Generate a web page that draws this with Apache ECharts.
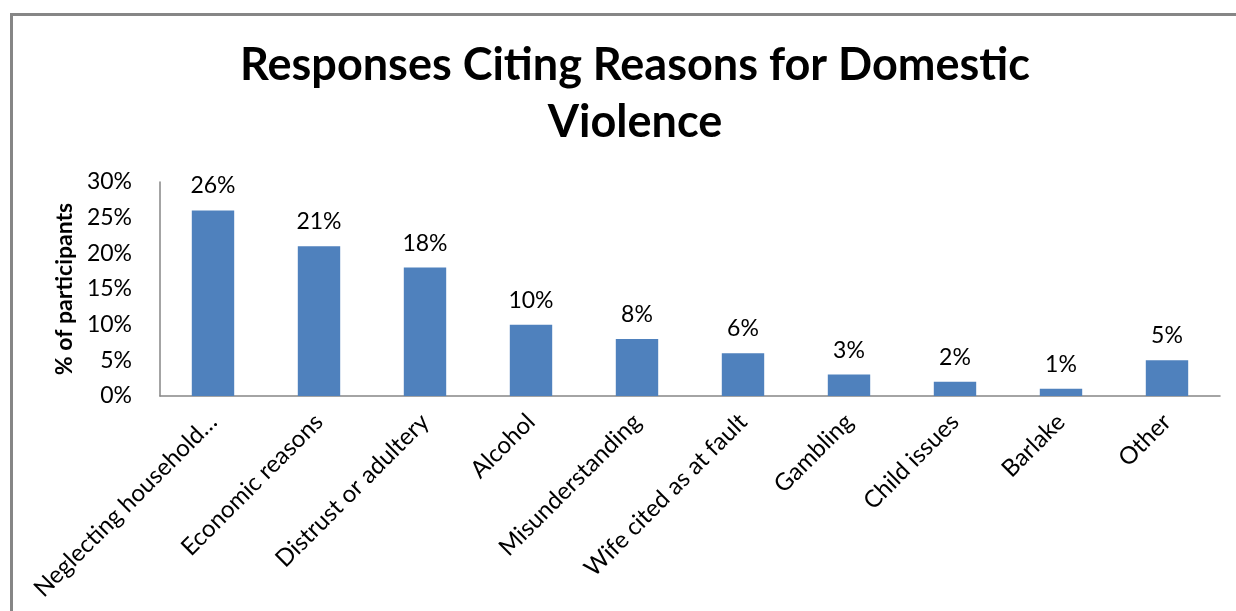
<!DOCTYPE html>
<html><head><meta charset="utf-8">
<script src="https://cdn.jsdelivr.net/npm/echarts@6/dist/echarts.min.js"></script>
<style>html,body{margin:0;padding:0;background:#fff}#c{width:1236px;height:611px}</style>
</head><body><div id="c"></div>
<script>
const categories = ["Neglecting household\u2026", "Economic reasons", "Distrust or adultery", "Alcohol", "Misunderstanding", "Wife cited as at fault", "Gambling", "Child issues", "Barlake", "Other"];
const values = [26, 21, 18, 10, 8, 6, 3, 2, 1, 5];
const yTicks = [0, 5, 10, 15, 20, 25, 30];
const titleText = "Responses Citing Reasons for Domestic\nViolence";
const yAxisName = "% of participants";

const font = "Lato, 'Open Sans', sans-serif";
const chart = echarts.init(document.getElementById('c'), null, {renderer: 'canvas'});
chart.setOption({
  animation: false,
  backgroundColor: '#fff',
  graphic: [{
    type: 'rect', left: 9, top: 12, shape: {width: 1400, height: 800},
    style: {fill: 'none', stroke: '#868686', lineWidth: 3}, silent: true
  }],
  title: {
    text: titleText, left: 630, textAlign: 'center', top: 32,
    textStyle: {fontFamily: font, fontWeight: 'bold', fontSize: 45, lineHeight: 57, color: '#000'}
  },
  grid: {left: 160, right: 16, top: 182, bottom: 215, containLabel: false},
  xAxis: {
    type: 'category', data: categories,
    axisLine: {lineStyle: {color: '#868686', width: 1.5}},
    axisTick: {show: false},
    axisLabel: {rotate: 45, interval: 0, margin: 22, color: '#000', fontFamily: font, fontSize: 24}
  },
  yAxis: {
    type: 'value', min: yTicks[0], max: yTicks[yTicks.length - 1], interval: 5,
    name: yAxisName, nameLocation: 'middle', nameGap: 80, nameRotate: 90,
    nameTextStyle: {fontFamily: font, fontWeight: 'bold', fontSize: 23, color: '#000'},
    axisLine: {show: true, lineStyle: {color: '#868686', width: 1.5}},
    axisTick: {show: false},
    splitLine: {show: false},
    axisLabel: {formatter: v => v + '%', margin: 28, color: '#000', fontFamily: font, fontSize: 23}
  },
  series: [{
    type: 'bar', data: values, barWidth: '40%',
    itemStyle: {color: '#4F81BD'},
    label: {show: true, position: 'top', distance: 13, formatter: p => p.value + '%',
      color: '#000', fontFamily: font, fontSize: 23}
  }]
});
</script></body></html>
